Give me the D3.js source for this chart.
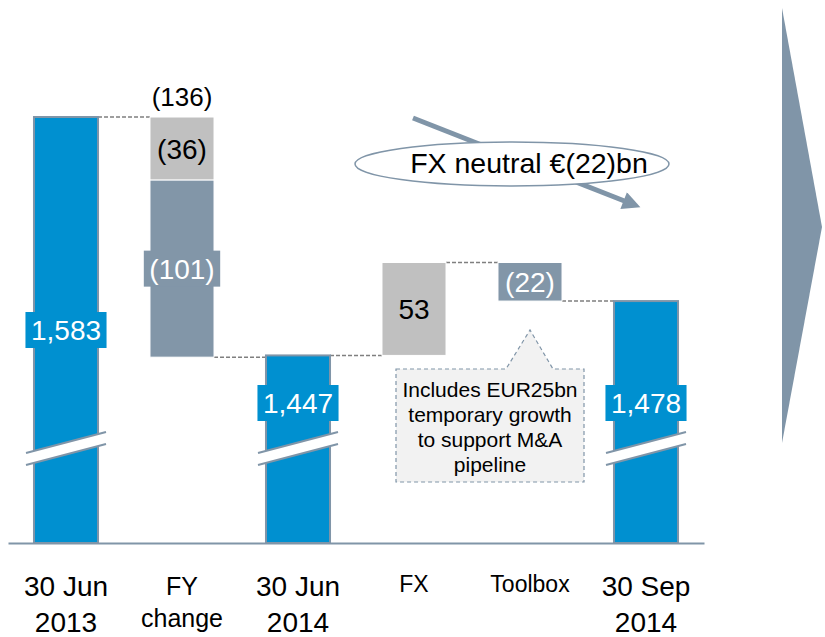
<!DOCTYPE html>
<html>
<head>
<meta charset="utf-8">
<script src="https://cdnjs.cloudflare.com/ajax/libs/d3/7.8.5/d3.min.js"></script>
<style>
  body { margin: 0; background: #fff; }
  svg text { font-family: "Liberation Sans", Arial, sans-serif; }
</style>
</head>
<body>
<div id="chart"></div>
<script>
// data (EUR bn)
var categories = ["30 Jun 2013", "FY change", "30 Jun 2014", "FX", "Toolbox", "30 Sep 2014"];
var tickLabels = [["30 Jun", "2013"], ["FY", "change"], ["30 Jun", "2014"], ["FX"], ["Toolbox"], ["30 Sep", "2014"]];
var totals = [1583, null, 1447, null, null, 1478];
var fyChange = [-36, -101];
var fyChangeTotal = -136;
var fxChange = [53];
var toolboxChange = [-22];
var fxNeutralChange = -22;
var calloutLines = ["Includes EUR25bn", "temporary growth", "to support M&A", "pipeline"];

var width = 825, height = 637;
var blue = "#0090d0", slate = "#8296a8", light = "#c0c0c0", edge = "#8095a8";

var changes = { "FY change": fyChange, "FX": fxChange, "Toolbox": toolboxChange };
// fill for each change segment
var shades = { "FY change": [light, slate], "FX": [light], "Toolbox": [slate] };

var fmt = function (v) {
  return v < 0 ? "(" + d3.format(",")(-v) + ")" : d3.format(",")(v);
};

var svg = d3.select("#chart").append("svg")
  .attr("width", width).attr("height", height)
  .style("display", "block");

var x = d3.scaleBand().domain(categories).range([8, 704])
  .paddingInner(0.448).paddingOuter(0.224);
// axis is broken, bars start at 1340 on the baseline
var y = d3.scaleLinear().domain([1340, 1583]).range([543, 117]);
var baseY = y(1340);
var breakY = 448.5;

// right hand chevron
svg.append("polygon")
  .attr("points", [[782, 8], [822, 227], [782, 443]].join(" "))
  .attr("fill", edge);

// build the waterfall
var bars = [], segs = [], level = totals[0];
categories.forEach(function (c, i) {
  if (totals[i] != null) {
    level = totals[i];
    bars.push({ cat: c, value: totals[i], end: level });
  } else {
    changes[c].forEach(function (v, j) {
      segs.push({ cat: c, value: v, from: level, to: level + v, fill: shades[c][j] });
      level += v;
    });
    bars.push({ cat: c, end: level });
  }
});

// dashed connectors
var conn = svg.append("g");
for (var i = 0; i < bars.length - 1; i++) {
  conn.append("line")
    .attr("x1", x(bars[i].cat) + x.bandwidth())
    .attr("x2", x(bars[i + 1].cat))
    .attr("y1", y(bars[i].end)).attr("y2", y(bars[i].end))
    .attr("stroke", "#7f7f7f").attr("stroke-width", 1.5)
    .attr("stroke-dasharray", "4,2");
}

// total bars
var totalBars = bars.filter(function (b) { return b.value != null; });
svg.append("g").selectAll("rect").data(totalBars).enter()
  .append("rect")
  .attr("x", function (d) { return x(d.cat); })
  .attr("y", function (d) { return y(d.value); })
  .attr("width", x.bandwidth())
  .attr("height", function (d) { return baseY - y(d.value); })
  .attr("fill", blue).attr("stroke", edge).attr("stroke-width", 2);

// break marks
var brk = svg.append("g").selectAll("g").data(totalBars).enter().append("g");
brk.each(function (d) {
  var cx = x(d.cat) + x.bandwidth() / 2, g = d3.select(this);
  var l = cx - 40, r = cx + 40, yl = breakY + 10.5, yr = breakY - 10.5;
  g.append("polygon")
    .attr("points", [[l, yl - 6], [r, yr - 6], [r, yr + 6], [l, yl + 6]].join(" "))
    .attr("fill", "#fff");
  [-6, 6].forEach(function (o) {
    g.append("line").attr("x1", l).attr("y1", yl + o).attr("x2", r).attr("y2", yr + o)
      .attr("stroke", edge).attr("stroke-width", 2);
  });
});

// change segments
svg.append("g").selectAll("rect").data(segs).enter()
  .append("rect")
  .attr("x", function (d) { return x(d.cat); })
  .attr("y", function (d) { return y(Math.max(d.from, d.to)); })
  .attr("width", x.bandwidth())
  .attr("height", function (d) { return Math.abs(y(d.from) - y(d.to)); })
  .attr("fill", function (d) { return d.fill; })
  .attr("stroke", "#fff").attr("stroke-width", 1);

// value labels with a backing box when they are wider than the bar
function boxedLabel(cx, cy, txt, color, bg) {
  var g = svg.append("g");
  var r = g.append("rect").attr("fill", bg);
  var t = g.append("text")
    .attr("x", cx).attr("y", cy).attr("dy", "0.36em")
    .attr("text-anchor", "middle")
    .attr("font-size", 28).attr("fill", color)
    .text(txt);
  var w = t.node().getBBox().width + 11;
  if (bg && w > x.bandwidth()) {
    r.attr("x", cx - w / 2).attr("y", cy - 18).attr("width", w).attr("height", 36);
  } else {
    r.remove();
  }
}

totalBars.forEach(function (d) {
  var cx = x(d.cat) + x.bandwidth() / 2;
  var cy = Math.min((y(d.value) + baseY) / 2, breakY - 45.5);
  boxedLabel(cx, cy, fmt(d.value), "#fff", blue);
});

segs.forEach(function (d) {
  var cx = x(d.cat) + x.bandwidth() / 2;
  var cy = (y(d.from) + y(d.to)) / 2;
  var dark = d.fill == slate;
  boxedLabel(cx, cy, fmt(d.value), dark ? "#fff" : "#000", dark ? slate : null);
});

// FY change total above its bar
svg.append("text")
  .attr("x", x("FY change") + x.bandwidth() / 2)
  .attr("y", y(totals[0]) - 11)
  .attr("text-anchor", "middle").attr("font-size", 26)
  .text(fmt(fyChangeTotal));

// callout for the toolbox step
var ax = x("Toolbox") + x.bandwidth() / 2, ay = 330;
var bx0 = 396, bx1 = 584, by0 = 369, by1 = 482;
svg.append("path")
  .attr("d", "M" + bx0 + "," + by0 + "H" + (ax - 24) + "L" + ax + "," + ay +
    "L" + (ax + 23) + "," + by0 + "H" + bx1 + "V" + by1 + "H" + bx0 + "Z")
  .attr("fill", "#f2f2f2").attr("stroke", edge)
  .attr("stroke-width", 1.2).attr("stroke-dasharray", "4,3");
svg.append("g").selectAll("text").data(calloutLines).enter()
  .append("text")
  .attr("x", (bx0 + bx1) / 2)
  .attr("y", function (d, i) { return 397 + i * 25; })
  .attr("text-anchor", "middle").attr("font-size", 21)
  .text(function (d) { return d; });

// FX neutral arrow and bubble
svg.append("defs").append("marker")
  .attr("id", "head").attr("markerUnits", "userSpaceOnUse")
  .attr("viewBox", "0 0 10 10").attr("refX", 2).attr("refY", 5)
  .attr("markerWidth", 20).attr("markerHeight", 18).attr("orient", "auto")
  .append("path").attr("d", "M0,0L10,5L0,10Z").attr("fill", edge);
svg.append("line")
  .attr("x1", 413).attr("y1", 118).attr("x2", 627).attr("y2", 202)
  .attr("stroke", edge).attr("stroke-width", 5)
  .attr("marker-end", "url(#head)");
svg.append("ellipse")
  .attr("cx", 512).attr("cy", 164).attr("rx", 157).attr("ry", 22)
  .attr("fill", "#fff").attr("stroke", edge).attr("stroke-width", 1.5);
svg.append("text")
  .attr("x", 529).attr("y", 173)
  .attr("text-anchor", "middle").attr("font-size", 28.5)
  .text("FX neutral €" + fmt(fxNeutralChange) + "bn");

// category axis
var axis = svg.append("g")
  .attr("transform", "translate(0," + baseY + ")")
  .call(d3.axisBottom(x).tickSize(0).tickSizeOuter(0).tickFormat(""));
axis.select(".domain").attr("stroke", edge).attr("stroke-width", 2);
axis.selectAll(".tick text").remove();
axis.selectAll(".tick").each(function (c, i) {
  var lines = tickLabels[i];
  var big = /^\d/.test(lines[0]);
  var size = big ? 28 : (lines.length > 1 ? 25 : 23);
  var gap = big ? 36 : 32;
  var first = big ? 53 : (lines.length > 1 ? 52 : 49);
  d3.select(this).selectAll("text.lbl").data(lines).enter()
    .append("text").attr("class", "lbl")
    .attr("y", function (d, k) { return first + k * gap; })
    .attr("text-anchor", "middle")
    .attr("font-size", size).attr("fill", "#000")
    .text(function (d) { return d; });
});
</script>
</body>
</html>
